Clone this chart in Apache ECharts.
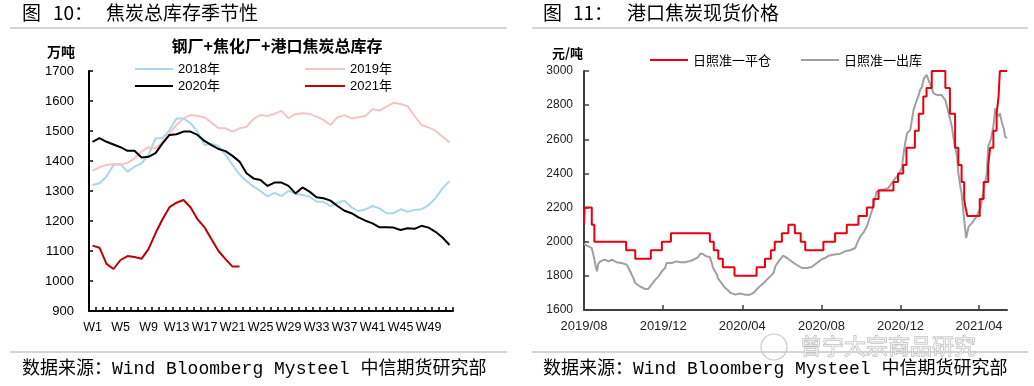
<!DOCTYPE html>
<html><head><meta charset="utf-8">
<script src="https://cdn.jsdelivr.net/npm/echarts@6/dist/echarts.min.js"></script>
<style>html,body{margin:0;padding:0;background:#fff}#c{width:1034px;height:386px}</style>
</head><body><div id="c"></div>
<script>
// ---------- Left chart: 焦炭总库存季节性 ----------
const weeks = ['W1','W2','W3','W4','W5','W6','W7','W8','W9','W10','W11','W12','W13','W14','W15','W16','W17','W18','W19','W20','W21','W22','W23','W24','W25','W26','W27','W28','W29','W30','W31','W32','W33','W34','W35','W36','W37','W38','W39','W40','W41','W42','W43','W44','W45','W46','W47','W48','W49','W50','W51','W52'];
const y2018 = [1320,1326,1348,1387,1390,1364,1381,1392,1420,1476,1476,1503,1542,1542,1526,1498,1453,1457,1450,1420,1387,1355,1333,1315,1300,1282,1294,1283,1301,1290,1287,1281,1265,1264,1250,1261,1268,1245,1233,1239,1250,1242,1226,1226,1239,1231,1237,1239,1253,1276,1309,1333];
const y2019 = [1368,1379,1387,1390,1387,1394,1409,1431,1446,1442,1464,1492,1520,1542,1553,1550,1546,1528,1509,1509,1498,1509,1514,1540,1553,1550,1557,1567,1542,1557,1559,1557,1548,1537,1520,1546,1553,1542,1546,1550,1573,1568,1581,1594,1590,1583,1550,1520,1512,1501,1481,1462];
const y2020 = [1464,1476,1464,1455,1446,1434,1434,1412,1414,1426,1459,1487,1489,1498,1498,1487,1467,1453,1440,1433,1417,1398,1359,1342,1337,1317,1328,1328,1317,1292,1312,1298,1279,1276,1268,1250,1234,1226,1212,1201,1192,1179,1179,1178,1170,1176,1174,1184,1178,1164,1145,1120];
const y2021 = [1118,1111,1057,1040,1070,1083,1080,1074,1106,1159,1206,1246,1261,1270,1246,1206,1179,1139,1100,1073,1048,1048];

// ---------- Right chart: 港口焦炭现货价格 (x = days since 2019-08-01) ----------
const xTickDays = [0,122,244,366,488,609];
const xTickLabels = ['2019/08','2019/12','2020/04','2020/08','2020/12','2021/04'];
const lastDay = 652;
// 日照准一平仓: change points [day, price]
const pingcang = [[0,2100],[1,2200],[12,2100],[16,2000],[65,1950],[79,1900],[103,1950],[120,2000],[134,2050],[194,2000],[200,1950],[207,1900],[214,1850],[232,1800],[266,1850],[279,1900],[288,1950],[294,2000],[305,2050],[315,2100],[325,2050],[334,2000],[341,1950],[369,2000],[387,2050],[405,2100],[423,2150],[436,2200],[446,2250],[454,2300],[477,2350],[484,2400],[492,2450],[497,2550],[510,2650],[516,2750],[523,2850],[528,2900],[536,3000],[557,2900],[564,2750],[572,2550],[577,2450],[582,2350],[586,2250],[588,2200],[591,2150],[610,2250],[616,2350],[623,2450],[626,2550],[631,2650],[636,2750],[639,2850],[641,3000],[652,3000]];
// 日照准一出库: [day, price]
const chuku = [[0,1985],[2,1983],[7,1973],[12,1963],[15,1914],[18,1856],[20,1827],[22,1870],[25,1885],[32,1895],[38,1885],[43,1895],[50,1880],[58,1875],[66,1866],[71,1827],[76,1788],[79,1758],[86,1739],[94,1723],[99,1723],[104,1749],[110,1778],[115,1797],[120,1827],[125,1846],[127,1875],[130,1865],[135,1875],[138,1865],[143,1885],[146,1895],[148,1880],[156,1880],[161,1885],[166,1890],[171,1899],[176,1910],[179,1930],[183,1930],[188,1915],[194,1910],[197,1875],[199,1846],[205,1807],[207,1782],[212,1758],[216,1735],[221,1719],[226,1700],[233,1690],[241,1697],[243,1703],[248,1690],[256,1690],[261,1700],[266,1719],[271,1739],[277,1758],[282,1778],[287,1797],[292,1815],[295,1856],[300,1885],[307,1918],[315,1899],[325,1871],[336,1846],[343,1846],[351,1852],[359,1875],[367,1899],[372,1905],[377,1918],[384,1924],[395,1930],[402,1944],[410,1950],[418,1963],[421,1992],[426,2031],[431,2055],[436,2090],[441,2148],[446,2207],[451,2294],[456,2304],[464,2308],[469,2314],[472,2320],[480,2372],[485,2392],[490,2431],[492,2499],[495,2577],[498,2636],[503,2655],[505,2704],[508,2772],[513,2830],[516,2860],[518,2889],[521,2908],[524,2957],[528,2977],[531,2948],[533,2928],[539,2869],[544,2860],[551,2860],[557,2830],[562,2752],[567,2675],[570,2597],[575,2499],[577,2402],[580,2324],[582,2285],[585,2168],[589,2022],[593,2090],[598,2109],[605,2148],[611,2197],[616,2304],[621,2400],[623,2558],[627,2597],[631,2675],[634,2782],[636,2753],[639,2735],[641,2752],[644,2700],[647,2665],[649,2616],[652,2606]];

const CJK = '"Noto Sans CJK SC", sans-serif';
const NUM_L = '"Liberation Sans", "Noto Sans CJK SC", sans-serif';
const NUM_R = '"Liberation Sans", Arial, sans-serif';
const SRC = '"Liberation Mono", "Noto Sans CJK SC", monospace';
const plain = function(v){ return String(v); };

function txt(x, y, text, font, align) {
  return {type:'text', x:x, y:y, silent:true,
    style:{text:text, font:font, fill:'#000', textAlign:align||'left', textVerticalAlign:'middle'}};
}
function hline(x1, x2, y) {
  return {type:'rect', silent:true, shape:{x:x1, y:y, width:x2-x1, height:2}, style:{fill:'#d4d4d4'}};
}

const chart = echarts.init(document.getElementById('c'), null, {renderer:'canvas'});
chart.setOption({
  animation:false,
  backgroundColor:'#fff',
  grid:[
    {left:89, top:71, width:364, height:240},
    {left:584, top:71, width:423, height:239}
  ],
  legend:[
    {data:['2018年','2020年'], orient:'vertical', left:130, top:57, icon:'rect', itemWidth:38, itemHeight:2, itemGap:3,
     textStyle:{fontFamily:NUM_L, fontSize:13, lineHeight:14, color:'#000'}, selectedMode:false},
    {data:['2019年','2021年'], orient:'vertical', left:300, top:57, icon:'rect', itemWidth:40, itemHeight:2, itemGap:3,
     textStyle:{fontFamily:NUM_L, fontSize:13, lineHeight:14, color:'#000'}, selectedMode:false},
    {data:['日照准一平仓','日照准一出库'], orient:'horizontal', left:645, top:48, icon:'rect', itemWidth:38, itemHeight:2, itemGap:30,
     textStyle:{fontFamily:CJK, fontSize:13, lineHeight:14, color:'#000'}, selectedMode:false}
  ],
  xAxis:[
    {type:'category', gridIndex:0, data:weeks, boundaryGap:true,
     axisLine:{lineStyle:{color:'#000', width:2}},
     axisTick:{show:true, inside:true, length:4, interval:0, lineStyle:{color:'#000', width:1.5}},
     axisLabel:{interval:3, hideOverlap:false, fontFamily:NUM_L, fontSize:12.5, color:'#000', margin:10},
     splitLine:{show:false}},
    {type:'value', gridIndex:1, min:0, max:lastDay,
     axisLine:{lineStyle:{color:'#404040', width:2}},
     axisTick:{show:true, inside:true, length:5, customValues:xTickDays, lineStyle:{color:'#404040', width:1.5}},
     axisLabel:{customValues:xTickDays, fontFamily:NUM_R, fontSize:13, color:'#222', margin:10,
       formatter:function(v){ const i = xTickDays.indexOf(v); return i>=0 ? xTickLabels[i] : ''; }},
     splitLine:{show:false}}
  ],
  yAxis:[
    {type:'value', gridIndex:0, min:900, max:1700, interval:100,
     axisLine:{show:true, lineStyle:{color:'#000', width:2}},
     axisTick:{show:true, inside:true, length:4, lineStyle:{color:'#000', width:1.5}},
     axisLabel:{formatter:plain, fontFamily:NUM_L, fontSize:13, color:'#000', margin:15},
     splitLine:{show:false}},
    {type:'value', gridIndex:1, min:1600, max:3000, interval:200,
     axisLine:{show:true, lineStyle:{color:'#404040', width:2}},
     axisTick:{show:true, inside:true, length:5, lineStyle:{color:'#404040', width:1.5}},
     axisLabel:{formatter:plain, fontFamily:NUM_R, fontSize:12, color:'#222', margin:11},
     splitLine:{show:false}}
  ],
  series:[
    {name:'2018年', type:'line', xAxisIndex:0, yAxisIndex:0, data:y2018, symbol:'none', lineStyle:{color:'#a9d8e8', width:2}, itemStyle:{color:'#a9d8e8'}},
    {name:'2019年', type:'line', xAxisIndex:0, yAxisIndex:0, data:y2019, symbol:'none', lineStyle:{color:'#f5c4c4', width:2}, itemStyle:{color:'#f5c4c4'}},
    {name:'2020年', type:'line', xAxisIndex:0, yAxisIndex:0, data:y2020, symbol:'none', lineStyle:{color:'#000000', width:2}, itemStyle:{color:'#000000'}},
    {name:'2021年', type:'line', xAxisIndex:0, yAxisIndex:0, data:y2021, symbol:'none', lineStyle:{color:'#c00000', width:2}, itemStyle:{color:'#c00000'}},
    {name:'日照准一出库', type:'line', xAxisIndex:1, yAxisIndex:1, data:chuku, symbol:'none', lineStyle:{color:'#a0a0a0', width:2}, itemStyle:{color:'#a0a0a0'}},
    {name:'日照准一平仓', type:'line', xAxisIndex:1, yAxisIndex:1, data:pingcang, step:'end', symbol:'none', lineStyle:{color:'#e60012', width:2}, itemStyle:{color:'#e60012'}}
  ],
  graphic:[
    txt(22, 13, '图', '19px ' + CJK),
    txt(53, 13, '10：', '19px ' + CJK),
    txt(106, 13, '焦炭总库存季节性', '19px ' + CJK),
    txt(543, 13, '图', '19px ' + CJK),
    txt(573, 13, '11：', '19px ' + CJK),
    txt(627, 13, '港口焦炭现货价格', '19px ' + CJK),
    hline(10, 507, 27),
    hline(532, 1028, 27),
    hline(10, 507, 351),
    hline(532, 1028, 351),
    txt(277, 46, '钢厂+焦化厂+港口焦炭总库存', 'bold 16px ' + CJK, 'center'),
    txt(47, 52, '万吨', 'bold 14px ' + CJK),
    txt(552, 53, '元/吨', 'bold 13px ' + CJK),
    txt(22, 369, '数据来源：Wind Bloomberg Mysteel 中信期货研究部', '18px ' + SRC),
    txt(543, 369, '数据来源：Wind Bloomberg Mysteel 中信期货研究部', '18px ' + SRC),
    {type:'circle', silent:true, shape:{cx:774, cy:347, r:13}, style:{fill:'none', stroke:'#c8c8c8', lineWidth:1.2}},
    {type:'text', silent:true, x:800, y:346, style:{text:'曾宁大宗商品研究', font:'22px ' + CJK, fill:'rgba(255,255,255,0.6)', stroke:'#b5b5b5', lineWidth:1, textAlign:'left', textVerticalAlign:'middle'}}
  ]
});
</script>
</body></html>
